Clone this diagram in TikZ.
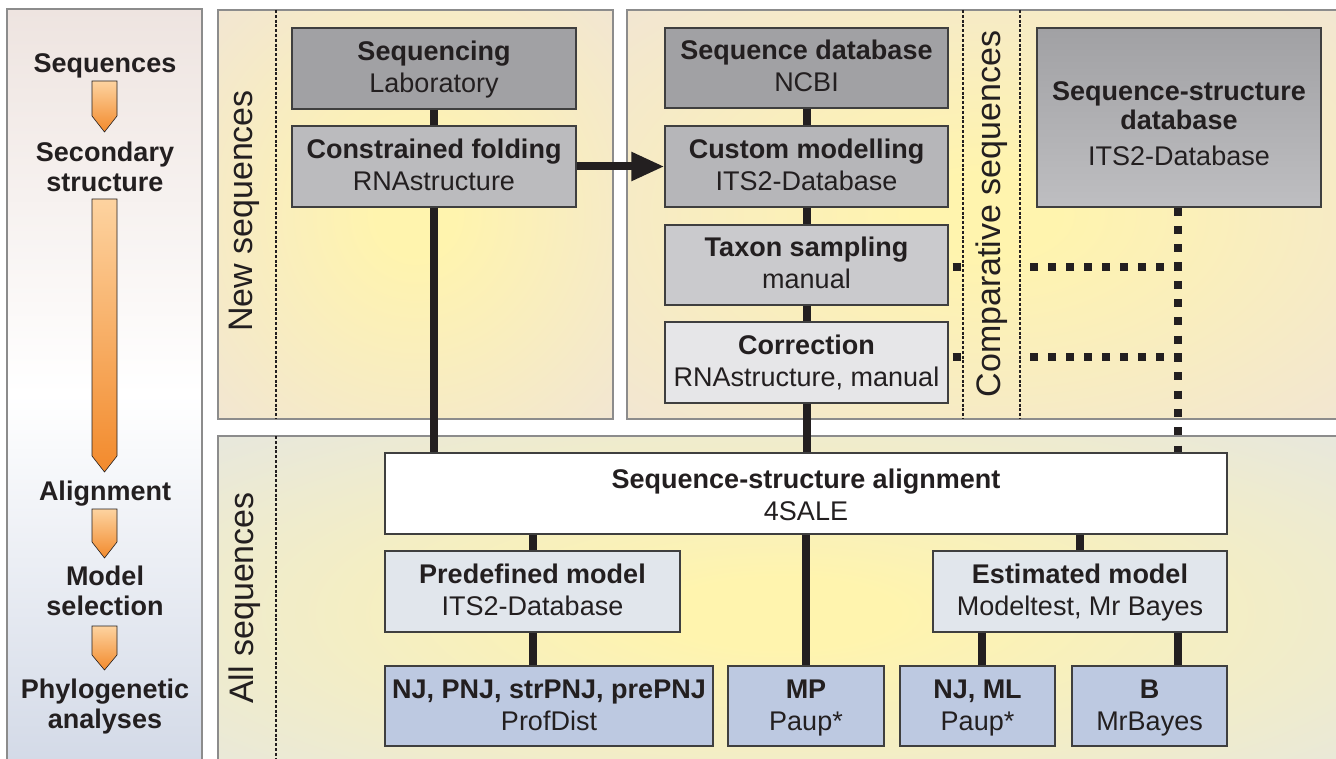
\documentclass[tikz,border=0pt]{standalone}
\usepackage{fontspec}
\setmainfont{Liberation Sans}
\usetikzlibrary{arrows.meta,calc}
\definecolor{ink}{HTML}{231F20}
\definecolor{glow}{HTML}{FFF4AE}
\definecolor{edgeTop}{HTML}{EEE2DC}
\definecolor{edgeBot}{HTML}{DFE3ED}
\definecolor{leftTop}{HTML}{EEE4E0}
\definecolor{leftBot}{HTML}{D1D8E6}
\definecolor{frame}{HTML}{8C8C8C}
\definecolor{boxline}{HTML}{3F3F3F}
\definecolor{gA}{HTML}{A1A1A4}
\definecolor{gFold}{HTML}{BBBBBE}
\definecolor{gB}{HTML}{B6B6B9}
\definecolor{gC}{HTML}{CACACD}
\definecolor{gD}{HTML}{E6E6E8}
\definecolor{gSS}{HTML}{BEBEC1}
\definecolor{modelc}{HTML}{E1E6EC}
\definecolor{treec}{HTML}{BDC9E1}
\definecolor{arTop}{HTML}{FDD3A0}
\definecolor{arBot}{HTML}{F28A2C}
\pgfdeclareradialshading{glowtop}{\pgfpoint{0bp}{0bp}}{color(0bp)=(glow); color(5bp)=(glow); color(44bp)=(edgeTop); color(100bp)=(edgeTop)}
\pgfdeclareradialshading{glowbot}{\pgfpoint{0bp}{0bp}}{color(0bp)=(glow); color(5bp)=(glow); color(46bp)=(edgeBot); color(100bp)=(edgeBot)}
\newcommand{\twoline}[2]{{\rule{0pt}{25.6pt}\bfseries #1}\\#2\strut}
\begin{document}
\begin{tikzpicture}[x=1pt,y=-1pt,
  procbox/.style={draw=boxline, line width=1.2pt, inner sep=0pt, align=center, text=ink,
    font=\fontsize{27}{32}\selectfont, minimum height=81pt},
  steplabel/.style={text=ink, align=center, inner sep=0pt, font=\bfseries\fontsize{27}{30}\selectfont,
    execute at begin node=\strut, execute at end node=\strut},
  sidelabel/.style={rotate=90, text=ink, inner sep=0pt, font=\fontsize{34}{40}\selectfont},
  panelframe/.style={draw=frame, line width=1.2pt},
  dashdiv/.style={draw=ink, line width=1.2pt, dash pattern=on 3pt off 1.8pt},
  conn/.style={draw=ink, line width=8pt},
  dotconn/.style={draw=ink, line width=8pt, dash pattern=on 8pt off 10pt},
  flowarrow/.style={draw=ink, line width=0.6pt, top color=arTop, bottom color=arBot}]
\useasboundingbox (0,0) rectangle (1336,759);
\clip (0,0) rectangle (1336,759);
% panels
\shadedraw[panelframe, top color=leftTop, bottom color=leftBot, middle color=white] (7,9) rectangle (202,780);
\shadedraw[panelframe, shading=glowtop] (218,10) rectangle (613,419);
\shadedraw[panelframe, shading=glowtop] (627,10) rectangle (1345,419);
\shadedraw[panelframe, shading=glowbot] (218,436) rectangle (1345,790);
% dividers
\draw[dashdiv] (276,10) -- (276,419);
\draw[dashdiv] (276,436) -- (276,759);
\draw[dashdiv] (963,10) -- (963,419);
\draw[dashdiv] (1020,10) -- (1020,419);
% side labels
\node[sidelabel] (lnew) at (244.5,211) {New sequences};
\node[sidelabel] (lcomp) at (992,214) {Comparative sequences};
\node[sidelabel] (lall) at (244.5,598) {All sequences};
% step arrows
\path[flowarrow] (92,81) -- (117,81) -- (117,116) -- (104.5,132) -- (92,116) -- cycle;
\path[flowarrow] (92,199) -- (117,199) -- (117,456) -- (104.5,472) -- (92,456) -- cycle;
\path[flowarrow] (92,509) -- (117,509) -- (117,542) -- (104.5,558) -- (92,542) -- cycle;
\path[flowarrow] (92,626) -- (117,626) -- (117,655) -- (104.5,670) -- (92,655) -- cycle;
% step labels
\node[steplabel] (st1) at (105,67) {Sequences};
\node[steplabel] (st2) at (105,171.5) {Secondary\\structure};
\node[steplabel] (st3) at (105,494.5) {Alignment};
\node[steplabel] (st4) at (105,595.5) {Model\\selection};
\node[steplabel] (st5) at (105,708.5) {Phylogenetic\\analyses};
% boxes
\node[procbox, fill=gA, minimum width=284pt] (seq) at (434,68.5) {\twoline{Sequencing}{Laboratory}};
\node[procbox, fill=gFold, minimum width=284pt] (fold) at (434,166.5) {\twoline{Constrained folding}{RNAstructure}};
\node[procbox, fill=gA, minimum width=283pt, minimum height=80pt] (ncbi) at (806.5,68) {\twoline{Sequence database}{NCBI}};
\node[procbox, fill=gB, minimum width=283pt] (custom) at (806.5,166.5) {\twoline{Custom modelling}{ITS2-Database}};
\node[procbox, fill=gC, minimum width=283pt, minimum height=80pt] (taxon) at (806.5,265) {\twoline{Taxon sampling}{manual}};
\node[procbox, fill=gD, minimum width=283pt] (corr) at (806.5,362.5) {\twoline{Correction}{RNAstructure, manual}};
\node[procbox, top color=gA, bottom color=gSS, minimum width=284pt, minimum height=179pt] (ssdb) at (1179,117.5) {{\rule{0pt}{40pt}\bfseries Sequence-structure}\\[-3pt]{\bfseries database}\\[4pt]ITS2-Database\strut};
\node[procbox, fill=white, minimum width=842pt] (align) at (806,493.5) {{\rule{0pt}{31pt}\bfseries Sequence-structure alignment}\\4SALE\strut};
\node[procbox, fill=modelc, minimum width=295pt] (predef) at (532.5,591.5) {\twoline{Predefined model}{ITS2-Database}};
\node[procbox, fill=modelc, minimum width=294pt] (estim) at (1080,591.5) {\twoline{Estimated model}{Modeltest, Mr Bayes}};
\node[procbox, fill=treec, minimum width=328pt, minimum height=80pt] (nj) at (549,706) {\twoline{NJ, PNJ, strPNJ, prePNJ}{ProfDist}};
\node[procbox, fill=treec, minimum width=156pt, minimum height=80pt] (mp) at (806,706) {\twoline{MP}{Paup*}};
\node[procbox, fill=treec, minimum width=155pt, minimum height=80pt] (njml) at (977.5,706) {\twoline{NJ, ML}{Paup*}};
\node[procbox, fill=treec, minimum width=155pt, minimum height=80pt] (bayes) at (1149.5,706) {\twoline{B}{MrBayes}};
% helper coordinates
\coordinate (dx) at (1178,0);
\coordinate (nx) at (982,0);
\coordinate (stripL) at (963,0);
\coordinate (stripR) at (1020,0);
\coordinate (h1) at (0,267);
\coordinate (h2) at (0,357);
% solid connectors
\draw[conn] (seq.south) -- (fold.north);
\draw[conn] (fold.south) -- (fold.south |- align.north);
\draw[conn, -{Triangle[length=33pt,width=27pt]}] (fold.east) -- (custom.west);
\draw[conn] (ncbi.south) -- (custom.north);
\draw[conn] (custom.south) -- (taxon.north);
\draw[conn] (taxon.south) -- (corr.north);
\draw[conn] (corr.south) -- (corr.south |- align.north);
\draw[conn] (predef.north |- align.south) -- (predef.north);
\draw[conn] (predef.south) -- (predef.south |- nj.north);
\draw[conn] (mp.north |- align.south) -- (mp.north);
\draw[conn] (estim.north |- align.south) -- (estim.north);
\draw[conn] (nx |- estim.south) -- (nx |- njml.north);
\draw[conn] (dx |- estim.south) -- (dx |- bayes.north);
% dotted connectors
\draw[dotconn, dash pattern=on 8pt off 10.3pt] (dx |- ssdb.south) -- (dx |- align.north);
\draw[dotconn, dash phase=14pt] (taxon.east |- h1) -- (stripL |- h1);
\draw[dotconn] ($(dx |- h1)+(4,0)$) -- (stripR |- h1);
\draw[dotconn, dash phase=14pt] (corr.east |- h2) -- (stripL |- h2);
\draw[dotconn] ($(dx |- h2)+(4,0)$) -- (stripR |- h2);
\end{tikzpicture}
\end{document}
